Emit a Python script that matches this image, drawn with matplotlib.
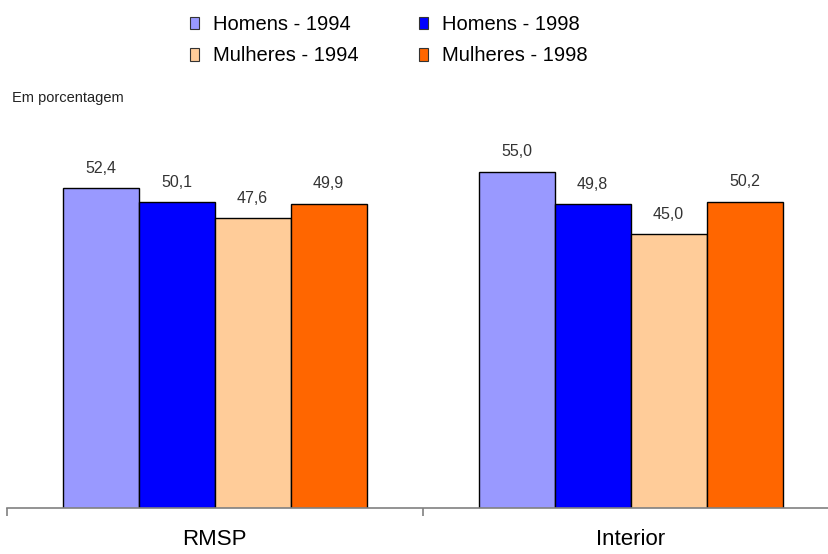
import numpy as np
import matplotlib
matplotlib.use("Agg")
import matplotlib.pyplot as plt
from matplotlib.patches import Patch

plt.rcParams['font.family'] = ['Liberation Sans', 'DejaVu Sans']

# percentages per region
regioes = ['RMSP', 'Interior']
series = ['Homens - 1994', 'Homens - 1998', 'Mulheres - 1994', 'Mulheres - 1998']
homens_1994 = [52.4, 55.0]
homens_1998 = [50.1, 49.8]
mulheres_1994 = [47.6, 45.0]
mulheres_1998 = [49.9, 50.2]
cores = ['#9999FF', '#0000FF', '#FFCC99', '#FF6600']

W, H = 829, 554
fig = plt.figure(figsize=(W / 100, H / 100), dpi=100)

# axes laid out in pixel units; it runs slightly past the right edge
left, right, bottom, top = 6.7, 838.7, 508, 140
ax = fig.add_axes([left / W, (H - bottom) / H, (right - left) / W, (bottom - top) / H])

x = np.arange(len(regioes))
largura = 0.1825
valores = [homens_1994, homens_1998, mulheres_1994, mulheres_1998]
for i, (vals, cor) in enumerate(zip(valores, cores)):
    pos = x + (i - 1.5) * largura
    bars = ax.bar(pos, vals, width=largura, color=cor, edgecolor='black',
                  linewidth=1, label=series[i], zorder=2)
    for b, v in zip(bars, vals):
        ax.annotate(f'{v:.1f}'.replace('.', ','),
                    (b.get_x() + b.get_width() / 2, v),
                    xytext=(0, 14.4), textcoords='offset points',
                    ha='center', va='center', fontsize=11.5, color='#333333')

ax.set_xlim(-0.5, 1.5)
ax.set_ylim(1.06, 60.13)

for s in ['top', 'left', 'right']:
    ax.spines[s].set_visible(False)
ax.spines['bottom'].set_color('#808080')
ax.spines['bottom'].set_linewidth(1.2)
ax.set_yticks([])

# separators between categories, labels centred under each group
ax.set_xticks([-0.5, 0.5, 1.5])
ax.set_xticklabels([])
ax.tick_params(axis='x', which='major', direction='out', length=5.8,
               width=1.2, color='#808080')
ax.set_xticks(x, minor=True)
ax.set_xticklabels(regioes, minor=True, fontsize=16)
ax.tick_params(axis='x', which='minor', length=0, pad=15)

handles = [Patch(facecolor=c, edgecolor='#333333', linewidth=0.8) for c in cores]
ordem = [0, 2, 1, 3]
fig.legend([handles[k] for k in ordem], [series[k] for k in ordem],
           ncol=2, loc='upper left', bbox_to_anchor=(190 / W, 1 - 15 / H),
           frameon=False, fontsize=14.5, borderpad=0, borderaxespad=0,
           handlelength=0.45, handleheight=0.6, handletextpad=0.7,
           columnspacing=3.0, labelspacing=0.62)

fig.text(11.7 / W, 1 - 97.5 / H, 'Em porcentagem', fontsize=10.5,
         va='center', ha='left', color='#222222')

fig.savefig('out.png', dpi=100)
